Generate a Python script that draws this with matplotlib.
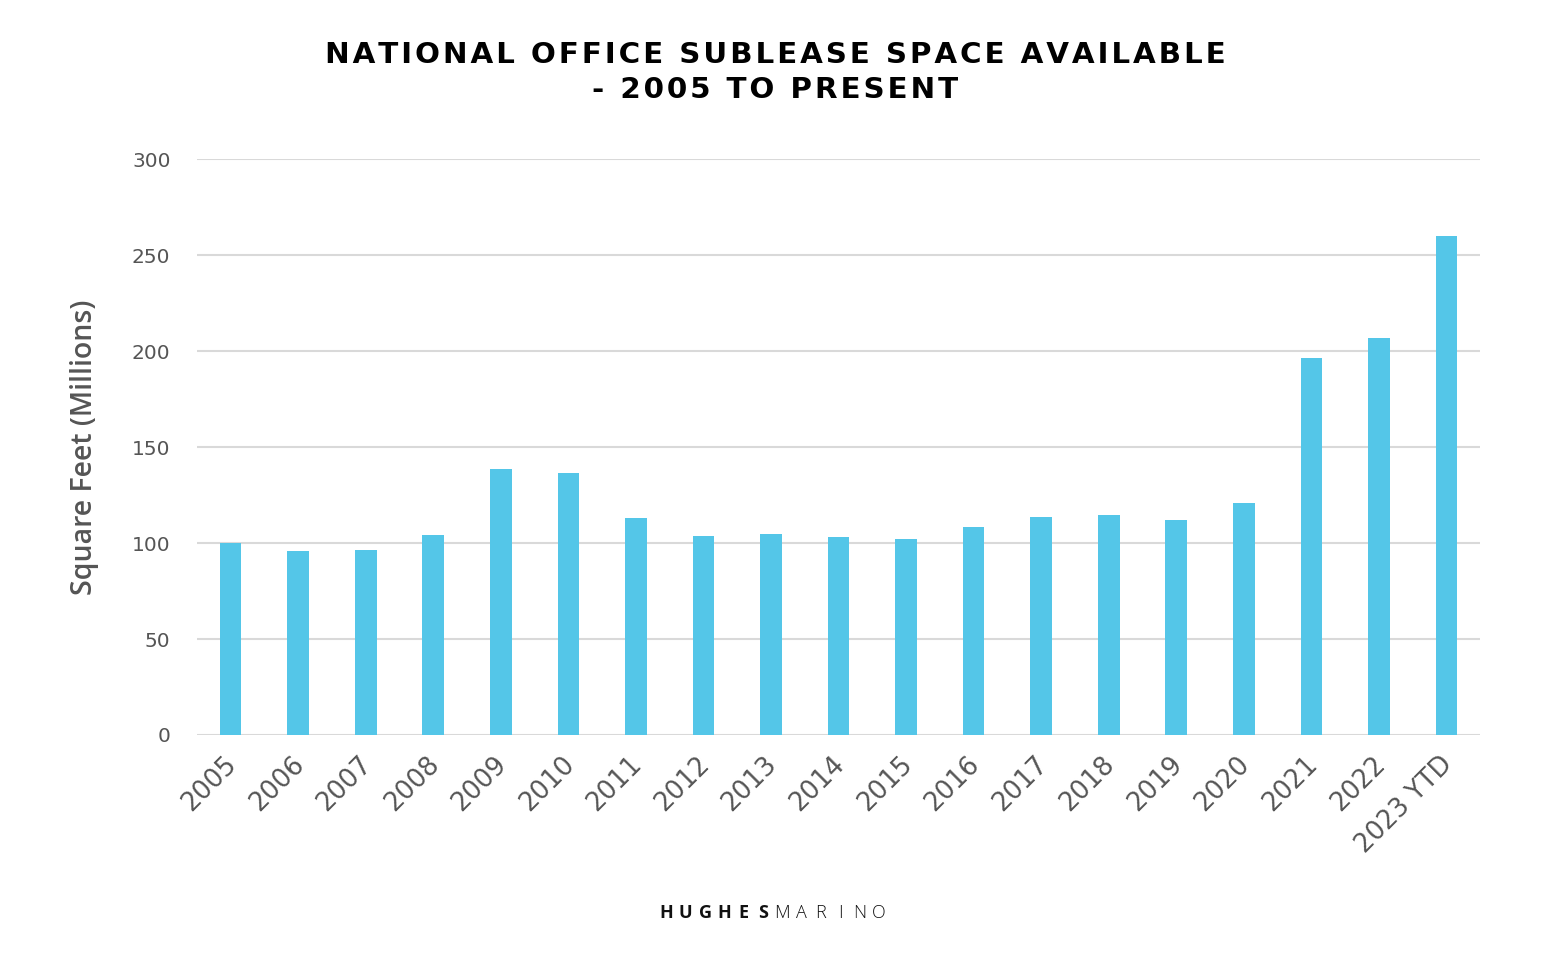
import matplotlib
matplotlib.use("Agg")
import matplotlib.pyplot as plt
from matplotlib.transforms import ScaledTranslation

years = ["2005", "2006", "2007", "2008", "2009", "2010", "2011", "2012", "2013", "2014",
         "2015", "2016", "2017", "2018", "2019", "2020", "2021", "2022", "2023 YTD"]
values = [100.0, 95.8, 96.4, 104.2, 138.5, 136.5, 113.0, 103.6, 104.7, 103.1,
          102.0, 108.3, 113.5, 114.6, 112.0, 120.8, 196.4, 206.8, 260.0]
yticks = [0, 50, 100, 150, 200, 250, 300]
title_lines = ["NATIONAL OFFICE SUBLEASE SPACE AVAILABLE", "- 2005 TO PRESENT"]

plt.rcParams['font.family'] = ['DejaVu Sans']

W, H = 1550, 960
fig = plt.figure(figsize=(15.5, 9.6), dpi=100)
ax = fig.add_axes([0.127, 0.2344, 0.828, 0.5996])

x = list(range(len(years)))
ax.bar(x, values, width=0.32, color="#54C6E8", zorder=3)

ax.set_xlim(-0.5, len(years) - 0.5)
ax.set_ylim(0, 300)
ax.set_yticks(yticks)
ax.set_yticklabels([str(t) for t in yticks], fontsize=14.5, color="#555555")
ax.set_xticks(x)
ax.set_xticklabels(years, rotation=45, ha="right", rotation_mode="anchor",
                   fontsize=18.5, color="#555555")
ax.tick_params(axis="both", length=0)
ax.tick_params(axis="y", pad=19)
ax.tick_params(axis="x", pad=12)
shift = ScaledTranslation(-7 / 100, 0, fig.dpi_scale_trans)
for lab in ax.get_xticklabels():
    lab.set_transform(lab.get_transform() + shift)
ax.grid(axis="y", color="#d9d9d9", linewidth=1.5, zorder=0)
for s in ax.spines.values():
    s.set_visible(False)

ax.set_ylabel("Square Feet (Millions)", fontsize=20.5, color="#555555", labelpad=24,
              fontweight="semibold", family="Open Sans")

hair = "\u200a"
def spaced(s):
    return hair.join(s)

fig.text(0.5, 1 - 55 / H, spaced(title_lines[0]), ha="center", va="center",
         fontsize=21.2, fontweight="bold", color="black")
fig.text(0.5, 1 - 90.5 / H, spaced(title_lines[1]), ha="center", va="center",
         fontsize=21.2, fontweight="bold", color="black")

logo_bold = "HUGHES"
logo_light = "MARINO"
pitch = 19.3
x0 = 666.5
for i, ch in enumerate(logo_bold + logo_light):
    fig.text((x0 + i * pitch) / W, 1 - 913 / H, ch, ha="center", va="center",
             fontsize=13, fontweight="bold" if i < len(logo_bold) else "light",
             color="#111111", family="Open Sans")

fig.savefig("out.png", dpi=100, facecolor="white")
